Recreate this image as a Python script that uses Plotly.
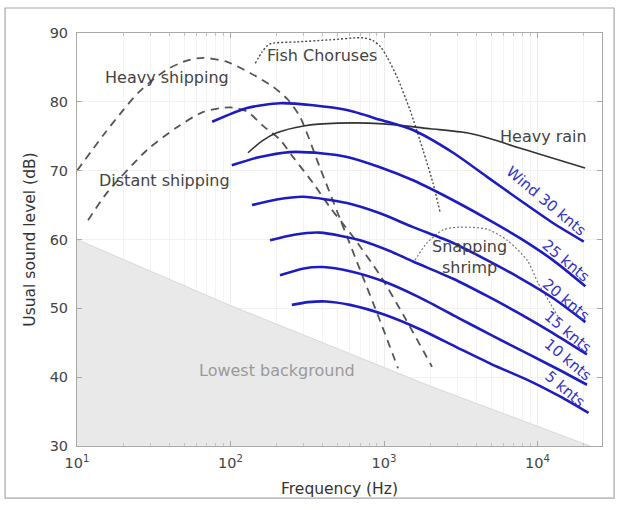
import plotly.graph_objects as go

# ---- data (frequency in Hz, level in dB) ----
lowest_f = [10, 100, 2000, 22000]
lowest_db = [60, 50.4, 38.7, 30]

heavy_ship_f = [10, 15, 20, 25, 32, 40, 52, 66, 95, 134, 189, 237, 284, 383, 517, 698, 942, 1234]
heavy_ship_db = [70.0, 75.3, 78.8, 81.3, 83.4, 84.9, 86.0, 86.4, 85.8, 84.2, 82.2, 80.3, 77.8, 70.4, 63.0, 55.6, 48.2, 41.3]

distant_ship_f = [11.8, 15.7, 28.6, 44.8, 66, 99, 128, 163, 210, 255, 345, 444, 628, 942, 1371, 2055]
distant_ship_db = [62.8, 66.8, 73.0, 76.3, 78.5, 79.2, 78.6, 76.5, 74.5, 72.0, 68.2, 64.7, 60.4, 54.8, 48.6, 41.5]

fish_f = [145, 160, 180, 270, 444, 730, 847, 950, 1047, 1216, 1477, 1794, 2084, 2317]
fish_db = [85.6, 87.2, 88.4, 88.7, 89.0, 89.3, 88.9, 88.0, 86.5, 83.6, 78.8, 73.0, 68.2, 64.0]

shrimp_f = [1592, 1905, 2422, 3125, 4690, 6330, 8550, 10080, 12050, 14000]
shrimp_db = [57.0, 59.5, 61.4, 61.8, 61.5, 59.9, 57.0, 53.7, 50.8, 48.3]

rain_f = [130, 160, 200, 300, 500, 1000, 2000, 3470, 5000, 7350, 10000, 20400]
rain_db = [72.6, 74.3, 75.5, 76.5, 76.9, 76.8, 76.1, 75.5, 74.6, 73.4, 72.5, 70.4]

wind30_f = [76, 128, 210, 345, 574, 942, 1545, 2820, 4690, 7690, 12600, 20000]
wind30_db = [77.1, 79.1, 79.8, 79.5, 78.8, 77.4, 75.9, 72.6, 69.1, 65.7, 62.4, 59.7]
wind25_f = [102, 150, 244, 400, 574, 942, 1545, 2820, 4690, 7690, 12600, 20500]
wind25_db = [70.8, 71.9, 72.7, 72.5, 72.0, 70.5, 68.6, 65.7, 63.0, 60.2, 57.0, 53.2]
wind20_f = [138, 200, 297, 574, 942, 1545, 2820, 4690, 7690, 12600, 20500]
wind20_db = [65.0, 65.8, 66.2, 65.3, 63.8, 61.8, 59.5, 57.0, 54.4, 51.5, 48.0]
wind15_f = [181, 260, 383, 698, 1100, 1545, 2820, 4690, 7690, 12600, 21000]
wind15_db = [59.9, 60.7, 61.0, 59.9, 58.3, 56.8, 54.3, 51.8, 49.2, 46.4, 43.3]
wind10_f = [210, 300, 400, 600, 1000, 1700, 3000, 5000, 9000, 14000, 21000]
wind10_db = [54.8, 55.8, 56.0, 55.4, 53.9, 51.6, 48.7, 46.1, 43.2, 41.0, 38.9]
wind5_f = [251, 320, 420, 600, 1000, 1700, 3000, 5000, 9000, 14000, 21500]
wind5_db = [50.5, 50.9, 51.0, 50.5, 49.1, 47.0, 44.3, 41.9, 39.4, 37.2, 34.8]

x_tickvals = [10, 100, 1000, 10000]
x_ticktext = ["10<sup>1</sup>", "10<sup>2</sup>", "10<sup>3</sup>", "10<sup>4</sup>"]
x_minor_vals = [m * d for d in (10, 100, 1000) for m in range(2, 10)] + [20000]
y_tickvals = [30, 40, 50, 60, 70, 80, 90]

FONT = "DejaVu Sans, Verdana, sans-serif"
BLUE = "#1c1cc0"
LBLUE = "#3434c8"

fig = go.Figure()

fig.add_trace(go.Scatter(x=lowest_f, y=lowest_db, mode="lines", fill="tozeroy",
                         fillcolor="#e9e9e9", line=dict(color="#d8d8d8", width=1),
                         hoverinfo="skip", showlegend=False))

def add_line(fx, fy, color, width, dash="solid", smooth=0.7):
    fig.add_trace(go.Scatter(x=fx, y=fy, mode="lines",
                             line=dict(color=color, width=width, dash=dash,
                                       shape="spline", smoothing=smooth),
                             hoverinfo="skip", showlegend=False))

add_line(heavy_ship_f, heavy_ship_db, "#555555", 1.8, "8px,6px")
add_line(distant_ship_f, distant_ship_db, "#555555", 1.8, "8px,6px")
add_line(fish_f, fish_db, "#4a4a4a", 1.4, "2px,2px")
add_line(shrimp_f, shrimp_db, "#777777", 1.2, "2px,2px")
add_line(rain_f, rain_db, "#333333", 1.6)
for fx, fy in [(wind30_f, wind30_db), (wind25_f, wind25_db), (wind20_f, wind20_db),
               (wind15_f, wind15_db), (wind10_f, wind10_db), (wind5_f, wind5_db)]:
    add_line(fx, fy, BLUE, 2.6)

ann = []
def label(text, x, y, color="#444444", size=16, angle=0):
    ann.append(dict(text=text, x=x, y=y, xref="x", yref="y", showarrow=False,
                    font=dict(family=FONT, size=size, color=color),
                    textangle=angle, xanchor="center", yanchor="middle"))

label("Heavy shipping", 1.586, 83.6)
label("Distant shipping", 1.573, 68.6)
label("Fish Choruses", 2.596, 86.7)
label("Heavy rain", 4.036, 74.9)
label("Snapping<br>shrimp", 3.560, 57.4)
label("Lowest background", 2.303, 40.9, color="#9a9a9a")
label("Wind 30 knts", 4.055, 65.6, LBLUE, 15, 40)
label("25 knts", 4.186, 56.9, LBLUE, 15, 40)
label("20 knts", 4.186, 51.2, LBLUE, 15, 40)
label("15 knts", 4.199, 46.6, LBLUE, 15, 40)
label("10 knts", 4.199, 42.5, LBLUE, 15, 40)
label("5 knts", 4.179, 38.3, LBLUE, 15, 40)

fig.update_layout(
    width=619, height=510,
    margin=dict(l=77, r=17, t=33, b=64),
    paper_bgcolor="white", plot_bgcolor="white",
    font=dict(family=FONT, size=12, color="#444444"),
    annotations=ann,
    shapes=[dict(type="rect", xref="paper", yref="paper",
                 x0=-0.137, x1=1.023, y0=-0.126, y1=1.0605,
                 line=dict(color="#a8a8a8", width=1.2), layer="below")],
)
fig.update_xaxes(type="log", range=[1, 4.42], tickvals=x_tickvals, ticktext=x_ticktext,
                 showline=True, linecolor="#a8a8a8", linewidth=1, mirror="ticks",
                 ticks="inside", ticklen=5, tickcolor="#a8a8a8",
                 showgrid=True, gridcolor="#ececec",
                 minor=dict(tickvals=x_minor_vals, showgrid=True, gridcolor="#f3f3f3",
                            ticks="inside", ticklen=3, tickcolor="#c4c4c4"),
                 tickfont=dict(size=14.5, color="#444444"), ticklabelstandoff=4,
                 title=dict(text="Frequency (Hz)", font=dict(size=15.5, color="#333333"), standoff=12),
                 zeroline=False)
fig.update_yaxes(range=[30, 90], tickvals=y_tickvals,
                 showline=True, linecolor="#a8a8a8", linewidth=1, mirror="ticks",
                 ticks="inside", ticklen=5, tickcolor="#a8a8a8",
                 showgrid=True, gridcolor="#f1f1f1",
                 tickfont=dict(size=14.5, color="#444444"), ticklabelstandoff=5,
                 title=dict(text="Usual sound level (dB)", font=dict(size=15.5, color="#333333"), standoff=10),
                 zeroline=False)

fig.write_html("out.html")
